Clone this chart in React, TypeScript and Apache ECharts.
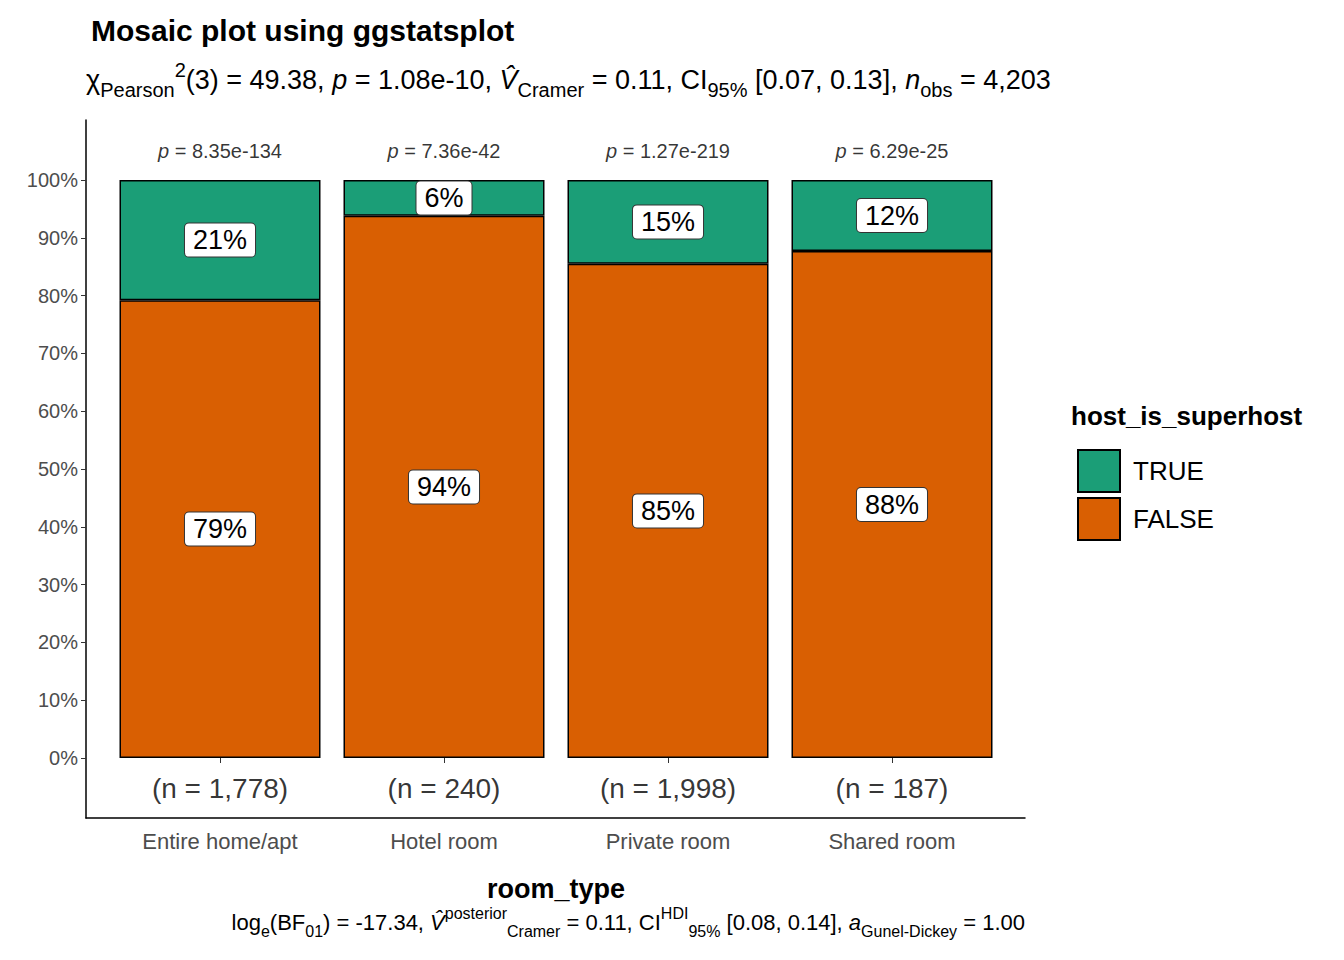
import { useEffect, useRef } from 'react'
import * as echarts from 'echarts'

const categories = ['Entire home/apt', 'Hotel room', 'Private room', 'Shared room']
const falseShare = [79.2, 93.8, 85.5, 87.7]
const trueShare = [20.8, 6.2, 14.5, 12.3]
const falseLabels = ['79%', '94%', '85%', '88%']
const trueLabels = ['21%', '6%', '15%', '12%']
const counts = ['(n = 1,778)', '(n = 240)', '(n = 1,998)', '(n = 187)']
const pValues = ['8.35e-134', '7.36e-42', '1.27e-219', '6.29e-25']

const FONT = 'Arimo, "Liberation Sans", Arial, sans-serif'

const boxLabel = (texts: string[]) => ({
  show: true,
  position: 'inside',
  formatter: (p: { dataIndex: number }) => texts[p.dataIndex],
  fontFamily: FONT,
  fontSize: 27,
  color: '#000',
  backgroundColor: '#fff',
  borderColor: '#333',
  borderWidth: 1,
  borderRadius: 4,
  padding: [4, 8, 2, 8]
})

const rich = {
  m: { fontFamily: FONT, fontSize: 27, color: '#000', lineHeight: 40, verticalAlign: 'middle' },
  i: { fontFamily: FONT, fontSize: 27, color: '#000', lineHeight: 40, fontStyle: 'italic', verticalAlign: 'middle' },
  sub: { fontFamily: FONT, fontSize: 20, color: '#000', lineHeight: 26, verticalAlign: 'bottom' },
  sup: { fontFamily: FONT, fontSize: 20, color: '#000', lineHeight: 26, verticalAlign: 'top' }
}

const capRich = {
  m: { fontFamily: FONT, fontSize: 22, color: '#000', lineHeight: 34, verticalAlign: 'middle' },
  i: { fontFamily: FONT, fontSize: 22, color: '#000', lineHeight: 34, fontStyle: 'italic', verticalAlign: 'middle' },
  sub: { fontFamily: FONT, fontSize: 16, color: '#000', lineHeight: 24, verticalAlign: 'bottom' },
  sup: { fontFamily: FONT, fontSize: 16, color: '#000', lineHeight: 24, verticalAlign: 'top' }
}

export default function App() {
  const ref = useRef<HTMLDivElement>(null)

  useEffect(() => {
    if (!ref.current) return
    document.body.style.margin = '0'
    const chart = echarts.init(ref.current, null, { renderer: 'svg' })
    chart.setOption({
      animation: false,
      backgroundColor: '#fff',
      textStyle: { fontFamily: FONT },
      title: {
        text: 'Mosaic plot using ggstatsplot',
        left: 86,
        top: 10,
        textStyle: { fontFamily: FONT, fontSize: 30, fontWeight: 'bold', color: '#000' }
      },
      grid: [
        { left: 86, right: 319, top: 120, height: 698 },
        { left: 108, width: 896, top: 180, height: 578 }
      ],
      xAxis: [
        {
          gridIndex: 0, type: 'value', min: 0.4, max: 4.6,
          axisLine: { show: true, onZero: false, lineStyle: { color: '#000', width: 1.5 } },
          axisTick: { show: false }, axisLabel: { show: false }, splitLine: { show: false }
        },
        {
          gridIndex: 1, type: 'category', data: categories, offset: 60,
          axisLine: { show: false },
          axisTick: { show: true, alignWithLabel: true, length: 5, lineStyle: { color: '#333' } },
          axisLabel: { fontFamily: FONT, fontSize: 22, color: '#4d4d4d', margin: 12 },
          name: 'room_type', nameLocation: 'middle', nameGap: 57,
          nameTextStyle: { fontFamily: FONT, fontSize: 27, fontWeight: 'bold', color: '#000' }
        }
      ],
      yAxis: [
        {
          gridIndex: 0, type: 'value', min: -10.4, max: 110.4,
          axisLine: { show: true, onZero: false, lineStyle: { color: '#000', width: 1.5 } },
          axisTick: { show: false }, axisLabel: { show: false }, splitLine: { show: false }
        },
        {
          gridIndex: 1, type: 'value', min: 0, max: 100, interval: 10, offset: 22,
          axisLine: { show: false },
          axisTick: { show: true, length: 5, lineStyle: { color: '#333' } },
          axisLabel: { formatter: '{value}%', fontFamily: FONT, fontSize: 20, color: '#4d4d4d', margin: 8 },
          splitLine: { show: false }
        }
      ],
      legend: {
        data: ['TRUE', 'FALSE'],
        orient: 'vertical',
        left: 1072,
        top: 444,
        itemWidth: 42,
        itemHeight: 42,
        itemGap: 4,
        icon: 'rect',
        textStyle: { fontFamily: FONT, fontSize: 26, color: '#000', padding: [0, 0, 0, 8] }
      },
      series: [
        {
          name: 'FALSE', type: 'bar', stack: 's', xAxisIndex: 1, yAxisIndex: 1,
          data: falseShare, barWidth: 201,
          itemStyle: { color: '#D95F02', borderColor: '#000', borderWidth: 1.5 },
          label: boxLabel(falseLabels)
        },
        {
          name: 'TRUE', type: 'bar', stack: 's', xAxisIndex: 1, yAxisIndex: 1,
          data: trueShare, barWidth: 201,
          itemStyle: { color: '#1B9E77', borderColor: '#000', borderWidth: 1.5 },
          label: boxLabel(trueLabels)
        },
        {
          type: 'scatter', xAxisIndex: 1, yAxisIndex: 1, symbolSize: 0, silent: true, clip: false,
          data: categories.map((c) => [c, -5.2]),
          label: {
            show: true, position: 'inside',
            formatter: (p: { dataIndex: number }) => counts[p.dataIndex],
            fontFamily: FONT, fontSize: 28, color: '#000'
          }
        },
        {
          type: 'scatter', xAxisIndex: 1, yAxisIndex: 1, symbolSize: 0, silent: true, clip: false,
          data: categories.map((c) => [c, 105]),
          label: {
            show: true, position: 'inside',
            formatter: (p: { dataIndex: number }) => `{i|p} = ${pValues[p.dataIndex]}`,
            fontFamily: FONT, fontSize: 20, color: '#000',
            rich: { i: { fontFamily: FONT, fontSize: 20, fontStyle: 'italic', color: '#000' } }
          }
        }
      ],
      graphic: [
        {
          type: 'text', left: 1071, top: 403,
          style: { text: 'host_is_superhost', fontFamily: FONT, fontSize: 26, fontWeight: 'bold', fill: '#000' }
        },
        {
          type: 'text', left: 86, top: 60,
          style: {
            text: '{m|χ}{sub|Pearson}{sup|2}{m|(3) = 49.38, }{i|p}{m| = 1.08e-10, }{i|V̂}{sub|Cramer}{m| = 0.11, CI}{sub|95%}{m| [0.07, 0.13], }{i|n}{sub|obs}{m| = 4,203}',
            rich
          }
        },
        {
          type: 'text', right: 319, top: 905,
          style: {
            text: '{m|log}{sub|e}{m|(BF}{sub|01}{m|) = -17.34, }{i|V̂}{sup|posterior}{sub|Cramer}{m| = 0.11, CI}{sup|HDI}{sub|95%}{m| [0.08, 0.14], }{i|a}{sub|Gunel-Dickey}{m| = 1.00}',
            rich: capRich
          }
        }
      ]
    })
    return () => chart.dispose()
  }, [])

  return <div ref={ref} style={{ width: 1344, height: 960 }} />
}
